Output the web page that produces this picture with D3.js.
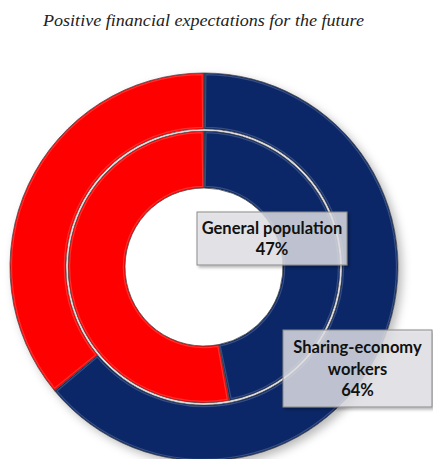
<!DOCTYPE html>
<html>
<head>
<meta charset="utf-8">
<script src="https://cdn.jsdelivr.net/npm/d3@7"></script>
<style>
  html, body { margin: 0; padding: 0; background: #fff; }
  svg { display: block; }
</style>
</head>
<body>
<svg id="chart" width="433" height="459"></svg>
<script>
// Share of respondents with positive financial expectations, per group
const groups = ["Sharing-economy workers", "General population"];
const positiveShare = [64, 47];
const sliceKeys = ["positive", "other"];
const sliceColors = ["#0b2767", "#fe0000"];
const titleText = "Positive financial expectations for the future";

const cx = 204, cy = 267;
// ring radii: outer ring = sharing-economy workers, inner ring = general population
const ringRadii = [[138, 194], [79, 136]];

const svg = d3.select("#chart");
const defs = svg.append("defs");

const shadow = defs.append("filter").attr("id", "ringShadow")
  .attr("x", "-20%").attr("y", "-20%").attr("width", "140%").attr("height", "140%");
shadow.append("feDropShadow").attr("dx", 4).attr("dy", 4).attr("stdDeviation", 5)
  .attr("flood-color", "#000").attr("flood-opacity", 0.28);

const boxShadow = defs.append("filter").attr("id", "boxShadow")
  .attr("x", "-20%").attr("y", "-30%").attr("width", "140%").attr("height", "160%");
boxShadow.append("feDropShadow").attr("dx", 2).attr("dy", 2).attr("stdDeviation", 1.5)
  .attr("flood-color", "#000").attr("flood-opacity", 0.35);

const color = d3.scaleOrdinal().domain(sliceKeys).range(sliceColors);
const pie = d3.pie().sort(null).value(d => d.value);

const g = svg.append("g").attr("transform", `translate(${cx},${cy})`);

// Shadow under the whole donut
g.append("path")
  .attr("d", d3.arc().innerRadius(ringRadii[0][0] - 60).outerRadius(ringRadii[0][1])({startAngle: 0, endAngle: 2 * Math.PI}))
  .attr("fill", "#fff")
  .attr("filter", "url(#ringShadow)");
g.append("circle").attr("r", ringRadii[1][0]).attr("fill", "#fff");

groups.forEach((name, i) => {
  const data = [
    {key: "positive", value: positiveShare[i]},
    {key: "other", value: 100 - positiveShare[i]}
  ];
  const [r0, r1] = ringRadii[i];
  const arc = d3.arc().innerRadius(r0).outerRadius(r1);
  const inset = d3.arc().innerRadius(r0 + 1.6).outerRadius(r1 - 1.6);
  const ring = g.append("g").attr("class", "ring");
  const slices = pie(data);
  ring.selectAll("path.slice")
    .data(slices)
    .join("path")
    .attr("class", "slice")
    .attr("d", arc)
    .attr("fill", d => color(d.data.key))
    .attr("stroke", "#4a4a4a")
    .attr("stroke-width", 0.8);
  // soft bevel highlight just inside each slice edge
  ring.selectAll("path.bevel")
    .data(slices.map(s => {
      const pad = 1.6 / ((r0 + r1) / 2);
      return Object.assign({}, s, {startAngle: s.startAngle + pad, endAngle: s.endAngle - pad});
    }))
    .join("path")
    .attr("class", "bevel")
    .attr("d", inset)
    .attr("fill", "none")
    .attr("stroke", "rgba(255,255,255,0.18)")
    .attr("stroke-width", 1.2);
});

// thin light gap line between the rings
g.append("circle").attr("r", 137).attr("fill", "none")
  .attr("stroke", "#d9d9d9").attr("stroke-width", 1.2);

// Title
svg.append("text")
  .attr("x", 43).attr("y", 26)
  .attr("font-family", "'Liberation Serif', serif")
  .attr("font-style", "italic")
  .attr("font-size", 17)
  .attr("fill", "#222")
  .attr("textLength", 321)
  .attr("lengthAdjust", "spacingAndGlyphs")
  .text(titleText);

// Value labels
const labelBoxes = [
  {x: 283, y: 330, w: 149, h: 77, lines: ["Sharing-economy", "workers", positiveShare[0] + "%"]},
  {x: 197, y: 212, w: 150, h: 53, lines: ["General population", positiveShare[1] + "%"]}
];
labelBoxes.forEach(b => {
  const lg = svg.append("g");
  lg.append("rect")
    .attr("x", b.x).attr("y", b.y).attr("width", b.w).attr("height", b.h)
    .attr("fill", "rgba(228,228,232,0.8)")
    .attr("stroke", "#8a8a8a").attr("stroke-width", 1)
    .attr("filter", "url(#boxShadow)");
  const lineH = 21.5;
  const top = b.y + b.h / 2 - (b.lines.length - 1) * lineH / 2 + 6;
  b.lines.forEach((t, k) => {
    lg.append("text")
      .attr("x", b.x + b.w / 2).attr("y", top + k * lineH)
      .attr("text-anchor", "middle")
      .attr("font-family", "Lato, 'Open Sans', sans-serif")
      .attr("font-weight", "bold")
      .attr("font-size", 16.5)
      .attr("fill", "#111")
      .text(t);
  });
});
</script>
</body>
</html>
